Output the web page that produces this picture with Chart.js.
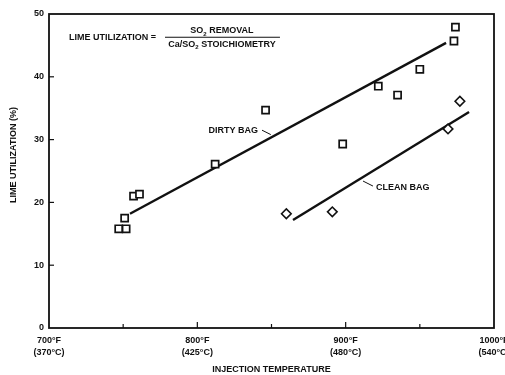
<!DOCTYPE html>
<html>
<head>
<meta charset="utf-8">
<script src="https://cdn.jsdelivr.net/npm/chart.js@4.4.1/dist/chart.umd.min.js"></script>
<style>
  html, body { margin: 0; padding: 0; background: #fff; }
  #wrap { width: 505px; height: 375px; }
</style>
</head>
<body>
<div id="wrap"><canvas id="limeChart" width="505" height="375"></canvas></div>
<script>
// values
const dirtyTemp = [747, 752, 751, 757, 761, 812, 846, 898, 922, 935, 950, 973, 974];
const dirtyUtil = [15.8, 15.8, 17.5, 21.0, 21.3, 26.1, 34.7, 29.3, 38.5, 37.1, 41.2, 45.7, 47.9];
const cleanTemp = [860, 891, 969, 977];
const cleanUtil = [18.2, 18.5, 31.7, 36.1];

// fitted lines (end points)
const dirtyFitTemp = [754.6, 967.7];
const dirtyFitUtil = [18.2, 45.4];
const cleanFitTemp = [864.5, 983.2];
const cleanFitUtil = [17.2, 34.4];

const xTicks = [700, 800, 900, 1000];
const fahrenheitLabels = ['700°F', '800°F', '900°F', '1000°F'];
const celsiusLabels = ['(370°C)', '(425°C)', '(480°C)', '(540°C)'];
const yTicks = [0, 10, 20, 30, 40, 50];

const FONT = 'Liberation Sans, Arial, sans-serif';
const INK = '#111';

function toPoints(xs, ys) {
    return xs.map((x, i) => ({ x: x, y: ys[i] }));
}

// frame + inward tick marks + text notes
const decorPlugin = {
    id: 'decor',
    afterDatasetsDraw(chart) {
        const ctx = chart.ctx;
        const a = chart.chartArea;
        const xs = chart.scales.x, ys = chart.scales.y;
        const P = (x, y) => [xs.getPixelForValue(x), ys.getPixelForValue(y)];

        ctx.save();
        ctx.strokeStyle = INK;
        ctx.lineWidth = 1.8;
        ctx.strokeRect(a.left, a.top, a.right - a.left, a.bottom - a.top);

        ctx.lineWidth = 1.2;
        for (let t = 750; t < 1000; t += 50) {
            const px = xs.getPixelForValue(t);
            const len = (t % 100 === 0) ? 6 : 4;
            ctx.beginPath();
            ctx.moveTo(px, a.bottom);
            ctx.lineTo(px, a.bottom - len);
            ctx.stroke();
        }
        yTicks.forEach(v => {
            if (v === 0 || v === 50) return;
            const py = ys.getPixelForValue(v);
            ctx.beginPath();
            ctx.moveTo(a.left, py);
            ctx.lineTo(a.left + 5, py);
            ctx.stroke();
        });

        ctx.fillStyle = INK;
        ctx.textBaseline = 'middle';
        const big = 'bold 9px ' + FONT;
        const sub = 'bold 6px ' + FONT;

        // formula
        ctx.font = big;
        ctx.textAlign = 'left';
        let p = P(713.5, 46.3);
        ctx.fillText('LIME UTILIZATION =', p[0], p[1]);

        const drawParts = (parts, cx, cy) => {
            let w = 0;
            parts.forEach(s => { ctx.font = s[1] ? sub : big; w += ctx.measureText(s[0]).width; });
            let x = cx - w / 2;
            parts.forEach(s => {
                ctx.font = s[1] ? sub : big;
                ctx.fillText(s[0], x, cy + (s[1] ? 3 : 0));
                x += ctx.measureText(s[0]).width;
            });
        };
        p = P(816.6, 47.3);
        drawParts([['SO', false], ['2', true], [' REMOVAL', false]], p[0], p[1]);
        p = P(816.6, 45.2);
        drawParts([['Ca/SO', false], ['2', true], [' STOICHIOMETRY', false]], p[0], p[1]);
        const b1 = P(778.2, 46.3), b2 = P(855.7, 46.3);
        ctx.lineWidth = 1.2;
        ctx.beginPath();
        ctx.moveTo(b1[0], b1[1]);
        ctx.lineTo(b2[0], b2[1]);
        ctx.stroke();

        // series notes
        ctx.font = big;
        ctx.textAlign = 'right';
        p = P(840.9, 31.5);
        ctx.fillText('DIRTY BAG', p[0], p[1]);
        ctx.textAlign = 'left';
        p = P(920.5, 22.3);
        ctx.fillText('CLEAN BAG', p[0], p[1]);

        ctx.lineWidth = 1;
        [[843.6, 31.5, 849.5, 30.8], [911.7, 23.4, 918.4, 22.6]].forEach(l => {
            const s = P(l[0], l[1]), e = P(l[2], l[3]);
            ctx.beginPath();
            ctx.moveTo(s[0], s[1]);
            ctx.lineTo(e[0], e[1]);
            ctx.stroke();
        });

        // y axis title
        ctx.save();
        ctx.translate(14, 155);
        ctx.rotate(-Math.PI / 2);
        ctx.textAlign = 'center';
        ctx.font = big;
        ctx.fillText('LIME UTILIZATION (%)', 0, 0);
        ctx.restore();

        ctx.restore();
    }
};

new Chart(document.getElementById('limeChart').getContext('2d'), {
    type: 'scatter',
    data: {
        datasets: [
            {
                label: 'Dirty bag',
                data: toPoints(dirtyTemp, dirtyUtil),
                pointStyle: 'rect',
                pointRadius: 5,
                pointBorderWidth: 1.7,
                borderColor: INK,
                backgroundColor: '#fff'
            },
            {
                label: 'Clean bag',
                data: toPoints(cleanTemp, cleanUtil),
                pointStyle: 'rectRot',
                pointRadius: 4.8,
                pointBorderWidth: 1.6,
                borderColor: INK,
                backgroundColor: '#fff'
            },
            {
                label: 'Dirty bag fit',
                data: toPoints(dirtyFitTemp, dirtyFitUtil),
                showLine: true,
                pointRadius: 0,
                borderWidth: 2.4,
                borderColor: INK
            },
            {
                label: 'Clean bag fit',
                data: toPoints(cleanFitTemp, cleanFitUtil),
                showLine: true,
                pointRadius: 0,
                borderWidth: 2.4,
                borderColor: INK
            }
        ]
    },
    options: {
        responsive: false,
        animation: false,
        layout: { padding: { top: 14, right: 11, left: 0, bottom: 0 } },
        plugins: {
            legend: { display: false },
            tooltip: { enabled: false }
        },
        scales: {
            x: {
                type: 'linear',
                min: 700,
                max: 1000,
                grid: { display: false, drawTicks: false },
                border: { display: false },
                ticks: {
                    stepSize: 50,
                    padding: 6,
                    maxRotation: 0,
                    autoSkip: false,
                    color: INK,
                    font: { family: FONT, size: 9, weight: 'bold', lineHeight: 1.4 },
                    callback: function (v) {
                        const i = xTicks.indexOf(v);
                        return i < 0 ? '' : [fahrenheitLabels[i], celsiusLabels[i]];
                    }
                },
                title: {
                    display: true,
                    text: 'INJECTION TEMPERATURE',
                    color: INK,
                    font: { family: FONT, size: 9, weight: 'bold' },
                    padding: { top: 3, bottom: 0 }
                },
                afterFit: function (s) {
                    s.height = 47;
                    s.paddingLeft = 0;
                    s.paddingRight = 0;
                }
            },
            y: {
                min: 0,
                max: 50,
                grid: { display: false, drawTicks: false },
                border: { display: false },
                afterBuildTicks: function (s) {
                    s.ticks = yTicks.map(v => ({ value: v }));
                },
                ticks: {
                    padding: 5,
                    color: INK,
                    font: { family: FONT, size: 9, weight: 'bold' }
                },
                afterFit: function (s) {
                    s.width = 49;
                    s.paddingTop = 0;
                    s.paddingBottom = 0;
                }
            }
        }
    },
    plugins: [decorPlugin]
});
</script>
</body>
</html>
